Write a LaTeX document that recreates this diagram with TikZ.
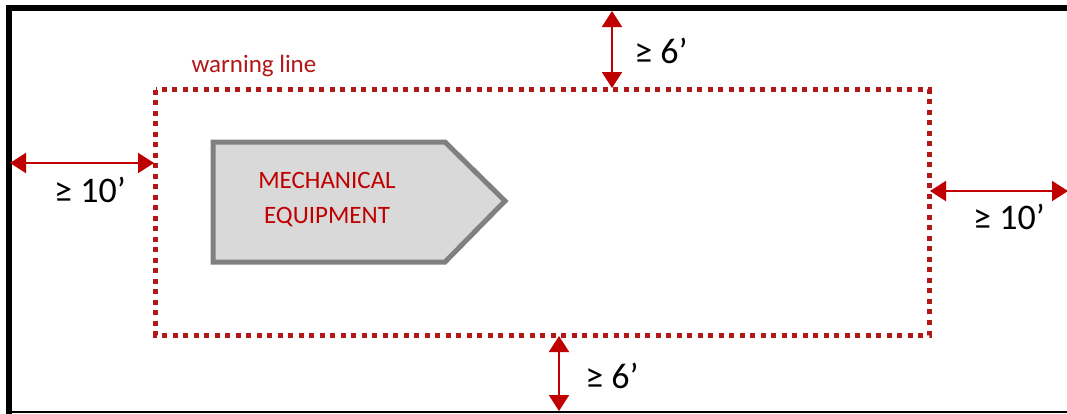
\documentclass[tikz,border=0pt]{standalone}
\usepackage{fontspec}
\setmainfont{Carlito}
\usetikzlibrary{arrows.meta}
\definecolor{dred}{RGB}{192,0,0}
\definecolor{wred}{RGB}{178,24,24}
\definecolor{eqgray}{RGB}{217,217,217}
\definecolor{eqedge}{RGB}{128,128,128}
\tikzset{
  dim/.style={draw=dred, line width=2bp, {Triangle[length=16bp,width=20bp]}-{Triangle[length=16bp,width=20bp]}},
  dimlabel/.style={font=\fontsize{36bp}{40bp}\selectfont, text=black, inner sep=0pt},
  warn/.style={draw=wred, line width=5bp, dash pattern=on 5bp off 5.5bp},
  frame/.style={draw=black},
}
\begin{document}
\begin{tikzpicture}[x=1bp,y=-1bp]
\useasboundingbox (0,0) rectangle (1067,413);
\fill[white] (-5,-5) rectangle (1075,420);
% frame
\coordinate (ftl) at (9,8);
\coordinate (ftr) at (1070,8);
\coordinate (fbl) at (9,412);
\coordinate (fbr) at (1070,412);
\draw[frame, line width=6bp] (6,8) -- (ftr);
\draw[frame, line width=6bp] (ftl) -- (9,415);
\draw[frame, line width=2bp] (9,412) -- (fbr);
% warning line
\coordinate (w1) at (155.5,89.5);
\coordinate (w2) at (929,335);
\draw[warn] (w1) rectangle (w2);
\node[font=\fontsize{25bp}{28bp}\selectfont, text=wred, inner sep=0pt] (wl) at (254,66) {warning line};
% equipment
\draw[draw=eqedge, fill=eqgray, line width=5bp, line join=miter]
  (213,142) -- (445,142) -- (505,201) -- (445,262) -- (213,262) -- cycle;
\node[font=\fontsize{25bp}{35bp}\selectfont, text=dred, align=center, inner sep=0pt] (eq) at (327,200) {MECHANICAL\\EQUIPMENT};
% dimension arrows
\coordinate (la) at (10,163);
\coordinate (lb) at (154,163);
\draw[dim] (la) -- (lb);
\node[dimlabel] (ll) at (90,190) {≥ 10’};
\coordinate (ra) at (930,191);
\coordinate (rb) at (1068,191);
\draw[dim] (ra) -- (rb);
\node[dimlabel] (rl) at (1009,217) {≥ 10’};
\coordinate (ta) at (612,11);
\coordinate (tb) at (612,88);
\draw[dim] (ta) -- (tb);
\node[dimlabel] (tl) at (661,51) {≥ 6’};
\coordinate (ba) at (559,336);
\coordinate (bb) at (559,411);
\draw[dim] (ba) -- (bb);
\node[dimlabel] (bl) at (612,376) {≥ 6’};
\end{tikzpicture}
\end{document}
